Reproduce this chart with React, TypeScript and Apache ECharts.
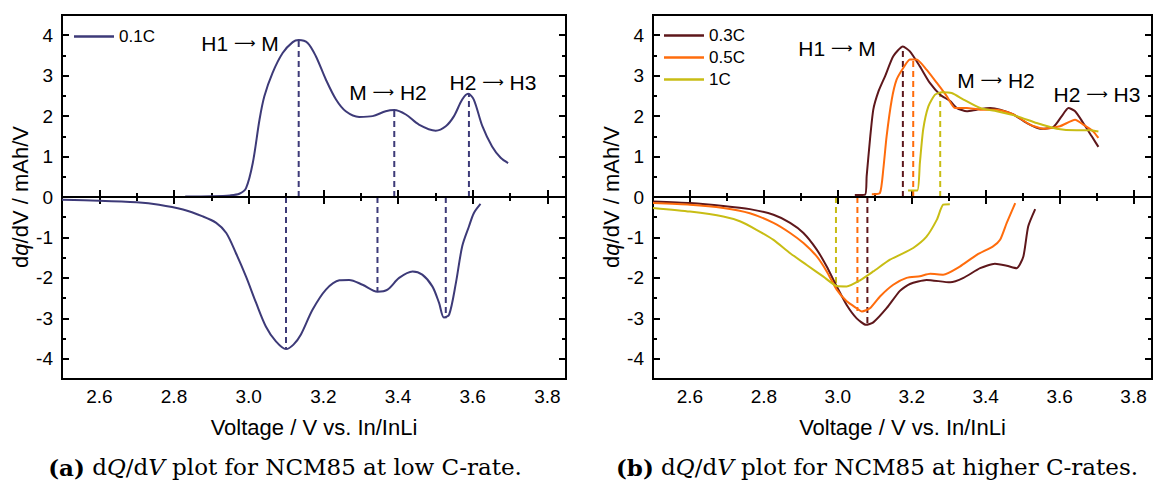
import React, { useEffect, useRef } from 'react';
import * as echarts from 'echarts';

// ---------- ticks ----------
const X_MAJOR = [2.6, 2.8, 3.0, 3.2, 3.4, 3.6, 3.8];
const X_MINOR = [2.7, 2.9, 3.1, 3.3, 3.5, 3.7];
const Y_MAJOR = [-4, -3, -2, -1, 0, 1, 2, 3, 4];
const Y_MINOR = [-3.5, -2.5, -1.5, -0.5, 0.5, 1.5, 2.5, 3.5];

// ---------- (a) 0.1C ----------
const v01c = [2.83, 2.9, 2.95, 2.975, 2.993, 3.011, 3.029, 3.042, 3.064, 3.091, 3.118, 3.134, 3.158, 3.18, 3.207, 3.234, 3.26, 3.296, 3.332, 3.367, 3.39, 3.421, 3.456, 3.501, 3.528, 3.55, 3.572, 3.588, 3.603, 3.626, 3.652, 3.675, 3.695];
const q01c = [0.01, 0.02, 0.04, 0.08, 0.22, 0.84, 1.91, 2.49, 3.07, 3.56, 3.83, 3.88, 3.81, 3.48, 2.9, 2.41, 2.12, 1.98, 2.0, 2.12, 2.15, 2.04, 1.79, 1.64, 1.75, 2.0, 2.41, 2.55, 2.41, 1.75, 1.25, 0.97, 0.84];
const v01d = [2.5, 2.6, 2.7, 2.76, 2.824, 2.877, 2.913, 2.94, 2.966, 2.993, 3.02, 3.046, 3.073, 3.1, 3.12, 3.14, 3.171, 3.207, 3.243, 3.269, 3.305, 3.345, 3.372, 3.403, 3.439, 3.465, 3.492, 3.51, 3.523, 3.537, 3.555, 3.572, 3.59, 3.603, 3.621];
const q01d = [-0.07, -0.09, -0.13, -0.19, -0.31, -0.48, -0.64, -0.89, -1.39, -1.97, -2.62, -3.2, -3.57, -3.76, -3.65, -3.4, -2.79, -2.29, -2.06, -2.05, -2.17, -2.34, -2.29, -2.0, -1.84, -1.92, -2.21, -2.62, -2.98, -2.91, -2.13, -1.22, -0.73, -0.4, -0.17];
const peakV01c = [3.134, 3.39, 3.59];
const peakQ01c = [3.88, 2.15, 2.55];
const peakV01d = [3.1, 3.345, 3.528];
const peakQ01d = [-3.76, -2.34, -3.0];

// ---------- (b) 0.3C / 0.5C / 1C ----------
const v03c = [3.046, 3.074, 3.078, 3.087, 3.096, 3.11, 3.128, 3.15, 3.176, 3.195, 3.222, 3.249, 3.277, 3.304, 3.322, 3.349, 3.376, 3.412, 3.439, 3.475, 3.511, 3.547, 3.583, 3.606, 3.624, 3.642, 3.664, 3.687, 3.705];
const q03c = [0.05, 0.06, 0.51, 1.42, 2.16, 2.61, 2.99, 3.48, 3.72, 3.6, 3.23, 2.82, 2.53, 2.37, 2.2, 2.12, 2.16, 2.2, 2.16, 2.04, 1.83, 1.69, 1.73, 2.0, 2.2, 2.12, 1.83, 1.5, 1.24];
const v05c = [3.092, 3.114, 3.123, 3.132, 3.146, 3.159, 3.177, 3.195, 3.213, 3.24, 3.268, 3.295, 3.317, 3.349, 3.385, 3.43, 3.475, 3.52, 3.556, 3.601, 3.642, 3.664, 3.691, 3.705];
const q05c = [0.07, 0.1, 0.68, 1.5, 2.41, 2.9, 3.19, 3.4, 3.4, 3.15, 2.82, 2.49, 2.2, 2.2, 2.16, 2.16, 2.04, 1.79, 1.69, 1.75, 1.91, 1.79, 1.62, 1.46];
const v1c = [3.19, 3.215, 3.222, 3.231, 3.245, 3.263, 3.281, 3.308, 3.34, 3.385, 3.43, 3.484, 3.538, 3.592, 3.646, 3.682, 3.705];
const q1c = [0.16, 0.16, 0.84, 1.67, 2.24, 2.53, 2.59, 2.57, 2.41, 2.2, 2.12, 2.0, 1.83, 1.69, 1.65, 1.65, 1.62];

const v03d = [2.5, 2.6, 2.69, 2.762, 2.826, 2.871, 2.907, 2.943, 2.97, 2.997, 3.024, 3.051, 3.076, 3.096, 3.132, 3.168, 3.195, 3.24, 3.304, 3.34, 3.385, 3.425, 3.457, 3.484, 3.502, 3.515, 3.534];
const q03d = [-0.11, -0.15, -0.22, -0.3, -0.44, -0.64, -0.89, -1.3, -1.72, -2.21, -2.67, -3.0, -3.16, -3.1, -2.75, -2.32, -2.15, -2.05, -2.11, -2.0, -1.76, -1.65, -1.7, -1.76, -1.47, -0.73, -0.3];
const v05d = [2.5, 2.6, 2.69, 2.762, 2.826, 2.871, 2.907, 2.943, 2.97, 2.997, 3.024, 3.051, 3.065, 3.087, 3.114, 3.15, 3.186, 3.222, 3.25, 3.285, 3.33, 3.376, 3.42, 3.439, 3.457, 3.48];
const q05d = [-0.15, -0.19, -0.27, -0.4, -0.64, -0.89, -1.14, -1.47, -1.84, -2.29, -2.58, -2.75, -2.83, -2.75, -2.46, -2.17, -2.0, -1.96, -1.9, -1.92, -1.72, -1.43, -1.22, -1.06, -0.64, -0.15];
const v1d = [2.5, 2.6, 2.69, 2.735, 2.78, 2.826, 2.871, 2.916, 2.961, 2.997, 3.024, 3.06, 3.096, 3.141, 3.168, 3.204, 3.24, 3.268, 3.285, 3.303];
const q1d = [-0.27, -0.36, -0.48, -0.6, -0.81, -1.06, -1.39, -1.68, -1.97, -2.2, -2.21, -2.06, -1.84, -1.55, -1.43, -1.26, -0.98, -0.56, -0.19, -0.18];

const peakVc = [3.176, 3.204, 3.277];
const peakQc = [3.72, 3.4, 2.57];
const peakVd = [3.08, 3.053, 2.995];
const peakQd = [-3.16, -2.82, -2.2];

const C01 = '#3d3a78';
const C03 = '#5e171b';
const C05 = '#ff6c0c';
const C1 = '#c8bd14';

const SANS = "'Liberation Sans', Arial, Helvetica, sans-serif";
const ARROW = "'DejaVu Sans', sans-serif";
const SERIF = "'DejaVu Serif', serif";

const zip = (a: number[], b: number[]) => a.map((v, i) => [v, b[i]]);

function xAxes(g: number) {
  const base = {
    type: 'value', gridIndex: g, min: 2.5, max: 3.85,
    splitLine: { show: false }, axisLine: { show: false },
  };
  const tick = (vals: number[], len: number) => ({
    show: true, inside: true, length: len, customValues: vals,
    lineStyle: { color: '#000', width: 2 },
  });
  return [
    {
      ...base, position: 'bottom',
      axisTick: tick(X_MAJOR, 7),
      axisLabel: {
        show: true, customValues: X_MAJOR, formatter: (v: number) => v.toFixed(1),
        color: '#000', fontSize: 19, fontFamily: SANS, margin: 8,
      },
      name: 'Voltage / V vs. In/InLi', nameLocation: 'middle', nameGap: 37,
      nameTextStyle: { color: '#000', fontSize: 22, fontFamily: SANS },
    },
    { ...base, position: 'bottom', axisTick: tick(X_MINOR, 4), axisLabel: { show: false } },
    { ...base, position: 'top', axisTick: tick(X_MAJOR, 7), axisLabel: { show: false } },
    { ...base, position: 'top', axisTick: tick(X_MINOR, 4), axisLabel: { show: false } },
  ];
}

function yAxes(g: number) {
  const base = {
    type: 'value', gridIndex: g, min: -4.5, max: 4.5,
    splitLine: { show: false }, axisLine: { show: false },
  };
  const tick = (vals: number[], len: number) => ({
    show: true, inside: true, length: len, customValues: vals,
    lineStyle: { color: '#000', width: 2 },
  });
  return [
    {
      ...base, position: 'left',
      axisTick: tick(Y_MAJOR, 7),
      axisLabel: {
        show: true, customValues: Y_MAJOR, formatter: (v: number) => String(v),
        color: '#000', fontSize: 19, fontFamily: SANS, margin: 9,
      },
      name: '{n|d}{i|q}{n|/dV / mAh/V}', nameLocation: 'middle', nameGap: 31,
      nameTextStyle: {
        color: '#000', fontSize: 22, fontFamily: SANS,
        rich: {
          n: { color: '#000', fontSize: 22, fontFamily: SANS },
          i: { color: '#000', fontSize: 22, fontFamily: SANS, fontStyle: 'italic' },
        },
      },
    },
    { ...base, position: 'left', axisTick: tick(Y_MINOR, 4), axisLabel: { show: false } },
    { ...base, position: 'right', axisTick: tick(Y_MAJOR, 7), axisLabel: { show: false } },
    { ...base, position: 'right', axisTick: tick(Y_MINOR, 4), axisLabel: { show: false } },
  ];
}

const zeroLine = {
  silent: true, symbol: ['none', 'none'], label: { show: false },
  lineStyle: { color: '#000', width: 2, type: 'solid' },
  data: [{ yAxis: 0 }],
};

function curve(name: string, g: number, data: number[][], color: string, smooth: number, withZero = false) {
  return {
    type: 'line', name, xAxisIndex: 4 * g, yAxisIndex: 4 * g, data,
    showSymbol: false, symbol: 'none', smooth,
    lineStyle: { color, width: 2 }, itemStyle: { color },
    ...(withZero ? { markLine: zeroLine } : {}),
    z: 3,
  };
}

function dashes(prefix: string, g: number, vs: number[], qs: number[], colors: string[]) {
  return vs.map((v, i) => ({
    type: 'line', name: `${prefix}${i}`, xAxisIndex: 4 * g, yAxisIndex: 4 * g,
    data: [[v, 0], [v, qs[i]]], showSymbol: false, symbol: 'none',
    lineStyle: { color: colors[i], width: 2, type: [6, 4] }, itemStyle: { color: colors[i] },
    z: 2,
  }));
}

function annot(from: string, to: string, x: number, y: number) {
  const t = { fontSize: 21, fontFamily: SANS, color: '#000' };
  return {
    type: 'text', x, y,
    style: {
      text: `{t|${from} }{a|⟶}{t| ${to}}`, fill: '#000', fontSize: 21, fontFamily: SANS,
      align: 'center', verticalAlign: 'middle', textAlign: 'center', textVerticalAlign: 'middle',
      rich: {
        t,
        a: { fontSize: 15, fontFamily: ARROW, color: '#000' },
      },
    },
  };
}

function caption(label: string, rest: string, x: number, y: number) {
  const base = { fontSize: 23, fontFamily: SERIF, color: '#000' };
  return {
    type: 'text', x, y,
    style: {
      text: `{b|(${label})}{r| d}{i|Q}{r|/d}{i|V}{r| ${rest}}`,
      fill: '#000', fontSize: 23, fontFamily: SERIF,
      align: 'center', verticalAlign: 'middle', textAlign: 'center', textVerticalAlign: 'middle',
      rich: {
        b: { ...base, fontWeight: 'bold' },
        r: { ...base },
        i: { ...base, fontStyle: 'italic' },
      },
    },
  };
}

const legendBase = {
  orient: 'vertical', itemWidth: 40, itemHeight: 2.5, itemGap: 5, padding: 0,
  icon: 'rect',
  textStyle: { color: '#000', fontSize: 17, fontFamily: SANS, lineHeight: 17 },
  selectedMode: false,
};

const option = {
  animation: false,
  backgroundColor: '#fff',
  grid: [
    { left: 62, top: 15, width: 504, height: 364, show: true, borderColor: '#000', borderWidth: 2, backgroundColor: 'transparent', containLabel: false, outerBoundsMode: 'none' },
    { left: 653, top: 15, width: 499, height: 364, show: true, borderColor: '#000', borderWidth: 2, backgroundColor: 'transparent', containLabel: false, outerBoundsMode: 'none' },
  ],
  xAxis: [...xAxes(0), ...xAxes(1)],
  yAxis: [...yAxes(0), ...yAxes(1)],
  legend: [
    { ...legendBase, data: ['0.1C'], left: 74, top: 28 },
    { ...legendBase, data: ['0.3C', '0.5C', '1C'], left: 664, top: 27 },
  ],
  series: [
    curve('0.1C', 0, zip(v01c, q01c), C01, 0.3, true),
    curve('0.1C', 0, zip(v01d, q01d), C01, 0.3),
    ...dashes('dc01_', 0, peakV01c, peakQ01c, [C01, C01, C01]),
    ...dashes('dd01_', 0, peakV01d, peakQ01d, [C01, C01, C01]),
    curve('0.3C', 1, zip(v03c, q03c), C03, 0.2, true),
    curve('0.5C', 1, zip(v05c, q05c), C05, 0.2),
    curve('1C', 1, zip(v1c, q1c), C1, 0.2),
    curve('0.3C', 1, zip(v03d, q03d), C03, 0.2),
    curve('0.5C', 1, zip(v05d, q05d), C05, 0.2),
    curve('1C', 1, zip(v1d, q1d), C1, 0.2),
    ...dashes('dc_', 1, peakVc, peakQc, [C03, C05, C1]),
    ...dashes('dd_', 1, peakVd, peakQd, [C03, C05, C1]),
  ],
  graphic: [
    annot('H1', 'M', 240, 43),
    annot('M', 'H2', 388, 92),
    annot('H2', 'H3', 493, 82),
    annot('H1', 'M', 837, 48),
    annot('M', 'H2', 996, 80),
    annot('H2', 'H3', 1097, 94),
    caption('a', 'plot for NCM85 at low C-rate.', 285, 467),
    caption('b', 'plot for NCM85 at higher C-rates.', 877, 467),
  ],
};

export default function App() {
  const ref = useRef<HTMLDivElement>(null);
  useEffect(() => {
    if (!ref.current) return;
    const chart = echarts.init(ref.current, null, { renderer: 'svg' });
    chart.setOption(option as any);
    return () => chart.dispose();
  }, []);
  return (
    <div
      ref={ref}
      style={{ position: 'absolute', left: 0, top: 0, width: 1155, height: 488, background: '#fff' }}
    />
  );
}
